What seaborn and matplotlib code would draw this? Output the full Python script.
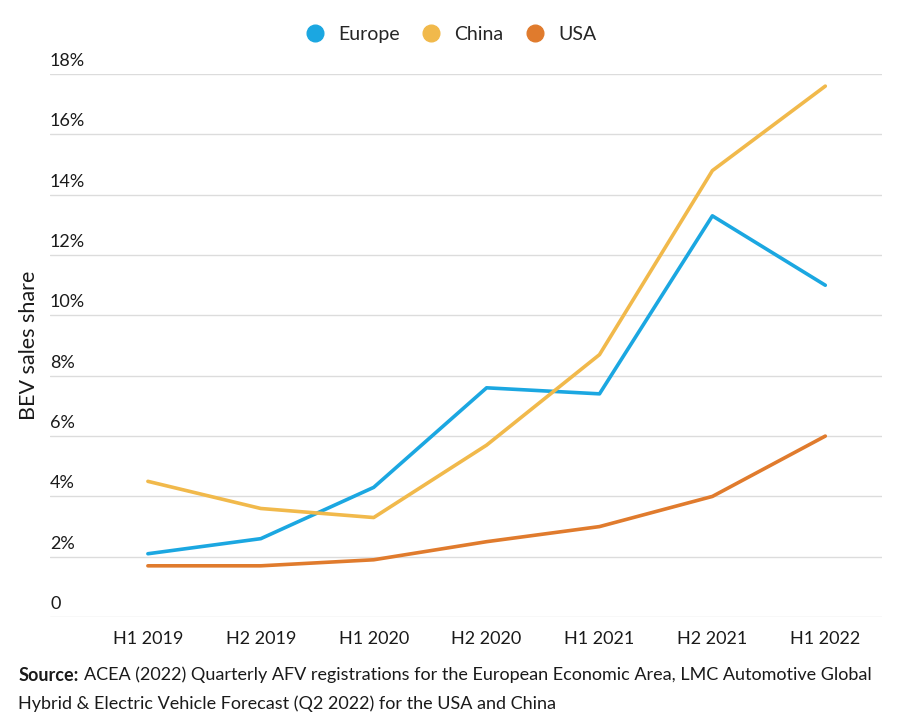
import pandas as pd
import matplotlib.pyplot as plt
import matplotlib.transforms as mtransforms
from matplotlib.lines import Line2D
import seaborn as sns

# Data (BEV share of sales, %)
periods = ["H1 2019", "H2 2019", "H1 2020", "H2 2020", "H1 2021", "H2 2021", "H1 2022"]
europe = [2.1, 2.6, 4.3, 7.6, 7.4, 13.3, 11.0]
china = [4.5, 3.6, 3.3, 5.7, 8.7, 14.8, 17.6]
usa = [1.7, 1.7, 1.9, 2.5, 3.0, 4.0, 6.0]
regions = ["Europe", "China", "USA"]
colors = {"Europe": "#1ba7e1", "China": "#f1b94b", "USA": "#e07b2d"}
yticks = [0, 2, 4, 6, 8, 10, 12, 14, 16, 18]

rows = []
for name, vals in zip(regions, [europe, china, usa]):
    for i, v in enumerate(vals):
        rows.append({"period": i, "label": periods[i], "region": name, "share": v})
df = pd.DataFrame(rows)

sns.set_style("white")
plt.rcParams["font.family"] = ["Lato", "DejaVu Sans"]

fig = plt.figure(figsize=(9.16, 7.26), dpi=100)
ax = fig.add_axes([0.0546, 0.150, 0.908, 0.748])

sns.lineplot(data=df, x="period", y="share", hue="region", palette=colors,
             hue_order=regions, linewidth=2.6, ax=ax, legend=False)

ax.set_ylim(0, 18)
ax.set_xlim(-0.867, 6.5)
ax.set_yticks(yticks)
ax.yaxis.grid(True, color="#dcdcdc", linewidth=1)
ax.set_axisbelow(True)
ax.tick_params(axis="y", length=0, labelleft=False)
ax.set_xticks(range(len(periods)))
ax.set_xticklabels(periods, fontsize=13, color="#1a1a1a")
ax.tick_params(axis="x", length=0, pad=10)
sns.despine(ax=ax, left=True, bottom=True)

# y labels sit above each gridline, left aligned
trans = mtransforms.blended_transform_factory(ax.transAxes, ax.transData)
for t in yticks:
    lab = "0" if t == 0 else f"{t}%"
    ax.text(0.0, t + 0.17, lab, transform=trans, ha="left", va="bottom",
            fontsize=13, color="#1a1a1a")

ax.set_xlabel("")
ax.set_ylabel("BEV sales share", fontsize=15.5, color="#1a1a1a")
ax.yaxis.set_label_coords(-0.013, 0.5)

handles = [Line2D([], [], marker="o", linestyle="", markersize=12,
                  markerfacecolor=colors[r], markeredgecolor=colors[r]) for r in regions]
fig.legend(handles, regions, loc="center", bbox_to_anchor=(0.487, 0.953), ncol=3,
           frameon=False, fontsize=14, handletextpad=0.2, columnspacing=0.6)

src = fig.text(0.02, 0.07, "Source:", fontsize=13, fontweight="bold", color="#1a1a1a", va="center")
fig.canvas.draw()
bb = src.get_window_extent().transformed(fig.transFigure.inverted())
fig.text(bb.x1 + 0.006, 0.07, "ACEA (2022) Quarterly AFV registrations for the European Economic Area, "
         "LMC Automotive Global", fontsize=13, color="#1a1a1a", va="center")
fig.text(0.02, 0.031, "Hybrid & Electric Vehicle Forecast (Q2 2022) for the USA and China",
         fontsize=13, color="#1a1a1a", va="center")

fig.savefig("out.png", dpi=100)
